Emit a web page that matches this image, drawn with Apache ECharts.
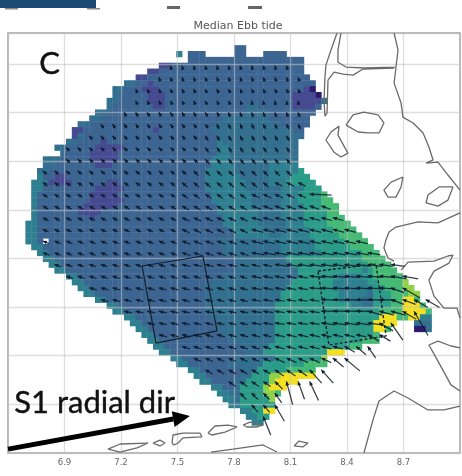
<!DOCTYPE html>
<html><head><meta charset="utf-8">
<style>html,body{margin:0;padding:0;background:#fff}#c{width:462px;height:476px;filter:blur(0.6px)}</style>
<script src="https://cdn.jsdelivr.net/npm/echarts@6/dist/echarts.min.js"></script>
</head><body><div id="c"></div>
<script>
const titleText='Median Ebb tide';
const panelLabel='C';
const radialLabel='S1 radial dir';
const xTickValues=[6.9,7.2,7.5,7.8,8.1,8.4,8.7];
const lonRange=[6.6,9.0], latRange=[53.4,55.127];
const cellLon0=6.6, cellLat0=55.077, cellDLon=0.0308, cellDLat=0.02405;
const arrowLon0=6.6, arrowLat0=54.945, arrowDLon=0.0616, arrowDLat=0.0481;
const palette=['#464a90','#3c6592','#33708f','#2e7f8f','#2a9c88','#45ba75','#8fd24a','#f5e020','#2b1a6e'];
// each row: start column, then (level, last column) pairs; null level = no data
const cellRows=[
[39,1,40],
[29,3,29,null,30,1,33,null,38,1,40,null,43,1,47],
[31,1,50],
[26,0,27,1,50],
[24,0,25,1,50],
[22,0,23,1,51],
[20,2,21,1,23,0,24,1,52],
[18,2,19,1,22,0,25,1,50,0,51,8,52],
[18,2,18,1,23,0,26,1,48,0,52,8,53],
[17,2,18,1,23,0,26,1,48,0,53,2,54],
[17,2,17,1,24,0,26,1,40,2,42,1,48,0,52,1,53],
[15,2,16,1,40,2,44,1,52],
[14,2,15,1,36,2,44,1,51],
[12,2,13,1,35,2,46,1,51],
[11,0,12,1,24,0,25,1,34,2,48,1,50],
[11,0,11,2,12,1,35,2,50],
[10,2,11,1,15,0,16,1,35,3,36,2,49],
[8,2,9,1,14,0,19,1,35,3,37,2,49],
[9,2,9,1,13,0,18,1,35,3,37,2,49],
[6,2,8,1,13,0,18,1,34,3,37,2,49],
[6,2,7,1,14,0,17,1,34,3,38,2,44,3,49],
[5,2,6,1,33,3,38,2,44,3,49,4,50],
[5,3,5,1,7,0,9,1,33,3,39,2,44,3,48,4,51],
[4,3,5,2,6,0,10,1,16,0,18,1,33,3,40,2,44,3,47,4,52],
[4,3,5,1,14,0,19,1,33,3,40,2,46,3,50,4,53],
[4,3,4,1,13,0,18,1,34,3,41,2,46,3,49,4,53,5,54],
[4,3,4,1,13,0,19,1,34,3,41,2,46,3,49,4,53,5,55],
[4,3,4,1,12,0,18,1,35,3,41,2,46,3,50,4,53,5,56],
[4,3,4,1,11,0,15,1,35,3,42,2,46,3,50,4,54,5,56],
[4,3,4,1,13,0,14,1,36,3,42,2,46,3,50,4,54,5,57],
[3,3,4,1,36,3,42,2,47,3,50,4,54,5,58],
[3,3,4,1,37,3,43,2,47,3,51,4,55,5,59],
[3,3,4,1,38,3,44,2,46,3,51,4,56,5,60],
[3,3,4,1,5,null,6,1,35,2,44,3,52,4,57,5,61],
[4,3,5,1,36,2,46,3,52,4,58,5,62],
[5,3,6,1,36,2,46,3,53,4,60,5,63],
[6,3,7,1,38,2,47,4,60,5,64],
[7,3,8,1,38,2,48,4,61,5,65],
[8,3,9,1,38,2,49,4,60,3,61,4,62,5,66],
[10,3,11,1,36,2,49,4,56,3,60,4,62,5,67],
[11,3,12,1,34,2,48,4,55,3,61,4,63,5,67,6,68],
[12,3,13,1,33,2,47,4,55,3,62,4,64,5,67,6,69],
[13,3,14,1,33,2,46,4,56,3,61,2,62,4,65,5,68,6,70],
[15,3,16,1,33,2,46,4,56,3,60,2,62,4,65,5,67,7,69,5,70],
[17,3,18,1,33,2,45,4,58,3,60,2,62,4,65,5,67,7,70,5,71],
[18,3,19,1,33,2,45,4,63,5,67,7,71,5,72],
[20,3,21,1,34,2,45,4,63,7,66,5,68,7,70,3,72],
[21,3,22,1,35,2,45,4,62,7,66,null,69,2,72],
[22,3,23,1,35,2,45,4,62,7,64,5,65,null,69,8,71,2,72],
[23,3,24,1,36,2,45,4,62,5,63],
[24,3,25,1,37,2,45,4,60,5,63],
[25,3,26,1,39,2,44,4,58,5,60],
[26,3,27,1,40,2,43,4,54,7,57],
[28,3,29,1,38,2,45,4,53,6,54],
[29,3,30,1,37,2,43,4,50,5,54],
[31,3,32,1,39,2,42,4,47,5,52],
[32,3,33,1,39,2,41,4,44,6,46,7,52],
[33,3,34,1,38,2,40,4,44,6,45,7,49],
[35,3,36,1,38,2,39,4,43,6,44,7,47],
[36,3,37,2,39,4,43,6,45,5,46],
[37,3,38,2,39,4,44,6,45],
[38,3,39,4,45],
[40,3,41,4,43,7,45],
[41,3,42,4,44],
[42,3,43]
];
// each row: arrow-row index, start column, then (direction deg, speed, last column) triples
const arrowRows=[
[-1,14,105,.2,24],
[0,13,110,.22,25],
[1,11,115,.22,25],
[2,11,115,.22,20,100,.22,25],
[3,10,120,.25,18,110,.25,25],
[4,8,125,.25,17,115,.28,25],
[5,7,130,.25,16,120,.3,24],
[6,5,135,.25,16,125,.3,24],
[7,5,140,.28,16,130,.32,24],
[8,3,140,.28,15,135,.35,24],
[9,3,145,.3,14,140,.36,22,155,.42,25],
[10,3,148,.3,14,145,.38,20,155,.45,25,178,1.1,26],
[11,3,150,.32,14,150,.4,20,160,.5,27],
[12,3,152,.32,14,155,.42,20,165,.55,28],
[13,3,155,.32,14,155,.42,20,165,.6,29],
[14,3,158,.34,14,160,.45,20,168,.6,30],
[15,3,160,.34,14,162,.45,20,170,.65,31],
[16,4,160,.35,14,165,.45,22,172,.7,33],
[17,5,162,.38,20,168,.5,25,175,.7,32,170,.8,34],
[18,7,165,.4,20,170,.5,25,176,.75,32,160,.7,33,150,1,34],
[19,8,165,.4,20,170,.5,26,178,.85,32,160,.7,34,150,.8,36],
[20,10,168,.4,20,172,.5,26,180,.85,30,165,.75,33,150,.8,34,120,1.4,35],
[21,12,168,.4,20,172,.5,26,172,.7,31,150,.8,32,125,1.05,33],
[22,13,165,.42,22,168,.52,30,150,.65,32],
[23,15,160,.42,22,165,.52,28,150,.6,29,140,.65,30,125,.7,31],
[24,16,155,.42,22,155,.55,27,140,.7,28,140,1,29],
[25,17,150,.42,22,145,.55,25,132,.9,27],
[26,19,145,.45,22,135,.55,23,105,1.2,24,110,.95,25,115,1.05,26],
[27,20,135,.45,22,125,.6,23],
[28,21,130,.5,22,120,.95,23],
[29,22,112,1,22]
];
const coastSylt1=[[8.347,55.127],[8.315,55.057],[8.288,54.995],[8.283,54.946],[8.278,54.851],[8.283,54.785],[8.294,54.798],[8.299,54.933],[8.331,54.966],[8.379,54.958],[8.432,54.954],[8.485,54.979],[8.650,54.983]];
const coastSylt2=[[8.368,55.127],[8.352,55.057],[8.352,55.007],[8.395,54.987],[8.490,54.983],[8.660,54.987],[8.671,55.057],[8.650,55.127]];
const coastMain1=[[8.660,54.983],[8.650,54.921],[8.687,54.839],[8.697,54.781],[8.751,54.757],[8.804,54.716],[8.835,54.658],[8.857,54.605],[8.820,54.592],[8.883,54.596],[8.936,54.543],[9.000,54.481]];
const coastMain2=[[9.000,54.387],[8.883,54.346],[8.777,54.350],[8.660,54.329],[8.623,54.309],[8.607,54.276],[8.596,54.243],[8.618,54.202],[8.650,54.189]];
const coastMain3=[[8.687,54.152],[8.724,54.185],[8.862,54.189],[8.936,54.210],[8.963,54.214],[8.942,54.181],[8.862,54.148],[8.835,54.111],[8.862,54.045],[8.915,53.996],[8.984,53.996],[9.000,53.955]];
const coastMain4=[[9.000,53.832],[8.952,53.840],[8.883,53.860],[8.835,53.844],[8.883,53.778],[8.952,53.680],[9.000,53.655]];
const coastMain5=[[8.490,53.400],[8.538,53.536],[8.570,53.614],[8.650,53.655],[8.724,53.626],[8.830,53.577],[8.915,53.577],[9.000,53.593]];
const coastSouth=[[7.678,53.404],[7.795,53.416],[7.954,53.433],[8.028,53.404]];
const island1=[[8.395,54.748],[8.432,54.790],[8.490,54.802],[8.565,54.790],[8.596,54.757],[8.570,54.716],[8.512,54.716],[8.459,54.720],[8.395,54.748]];
const island2=[[8.358,54.744],[8.315,54.720],[8.288,54.687],[8.331,54.637],[8.368,54.617],[8.405,54.633],[8.352,54.707],[8.358,54.744]];
const island3=[[8.697,54.535],[8.634,54.514],[8.596,54.481],[8.618,54.452],[8.660,54.452],[8.687,54.494],[8.697,54.535]];
const island4=[[8.963,54.494],[8.889,54.494],[8.830,54.461],[8.820,54.428],[8.883,54.415],[8.936,54.440],[8.963,54.494]];
const island5=[[7.131,53.416],[7.195,53.437],[7.343,53.441],[7.285,53.421],[7.195,53.404],[7.131,53.416]];
const island6=[[7.370,53.441],[7.407,53.453],[7.434,53.441],[7.407,53.429],[7.370,53.441]];
const island7=[[7.471,53.441],[7.476,53.474],[7.529,53.482],[7.619,53.482],[7.630,53.466],[7.529,53.462],[7.503,53.441],[7.481,53.433],[7.471,53.441]];
const island8=[[7.662,53.482],[7.699,53.511],[7.768,53.515],[7.816,53.507],[7.752,53.486],[7.683,53.474],[7.662,53.482]];
const island9=[[7.848,53.515],[7.885,53.527],[7.954,53.515],[7.922,53.507],[7.869,53.507],[7.848,53.515]];
const island10=[[8.119,53.429],[8.145,53.449],[8.193,53.441],[8.166,53.425],[8.119,53.429]];
const boxWest=[[7.312,54.169],[7.635,54.210],[7.710,53.902],[7.386,53.852],[7.312,54.169]];
const boxEast=[[8.246,54.148],[8.554,54.177],[8.607,53.881],[8.304,53.844],[8.246,54.148]];
const radialArrow=[[6.6,53.416],[7.566,53.552]];

const coasts=[coastSylt1,coastSylt2,coastMain1,coastMain2,coastMain3,coastMain4,coastMain5,coastSouth,island1,island2,island3,island4,island5,island6,island7,island8,island9,island10];
const cells=[];
cellRows.forEach((row,r)=>{
  let c=row[0];
  for(let i=1;i<row.length;i+=2){
    for(;c<=row[i+1];c++) if(row[i]!==null) cells.push([cellLon0+c*cellDLon,cellLat0-r*cellDLat,row[i]]);
  }
});
const arrows=[];
arrowRows.forEach(row=>{
  let a=row[1];
  for(let i=2;i<row.length;i+=3){
    for(;a<=row[i+2];a++) arrows.push([arrowLon0+a*arrowDLon,arrowLat0-row[0]*arrowDLat,row[i],row[i+1]]);
  }
});
const pxPerSpeed=20;
const lineSeries=(data,style)=>({type:'line',data,showSymbol:false,symbol:'none',silent:true,z:7,animation:false,lineStyle:style});

const chart=echarts.init(document.getElementById('c'),null,{renderer:'canvas'});
chart.setOption({
  animation:false,
  backgroundColor:'#fff',
  title:{text:titleText,left:233,top:16,textAlign:'center',textStyle:{fontFamily:'DejaVu Sans',fontSize:11,fontWeight:'normal',color:'#555'}},
  grid:{left:8,top:33,width:452,height:420,show:true,borderColor:'#a3a3a3',borderWidth:1.5,backgroundColor:'#fff'},
  xAxis:{type:'value',min:lonRange[0],max:lonRange[1],interval:0.3,z:5,
    axisLine:{show:false},axisTick:{show:false},
    axisLabel:{customValues:xTickValues,formatter:v=>v.toFixed(1),fontFamily:'DejaVu Sans',fontSize:8.5,color:'#666',margin:5},
    splitLine:{show:true,lineStyle:{color:'rgba(195,195,195,0.55)',width:1.3}}},
  yAxis:{type:'value',min:latRange[0],max:latRange[1],interval:0.2,z:5,
    axisLine:{show:false},axisTick:{show:false},axisLabel:{show:false},
    splitLine:{show:true,lineStyle:{color:'rgba(195,195,195,0.55)',width:1.3}}},
  graphic:[
    {type:'rect',left:0,top:0,shape:{width:96,height:8},style:{fill:'#1c4a75'},z:20},
    {type:'rect',left:87,top:8,shape:{width:13,height:1.5},style:{fill:'#888'},z:20},
    {type:'rect',left:5,top:8,shape:{width:13,height:1.5},style:{fill:'#888'},z:20},
    {type:'rect',left:167,top:6,shape:{width:13,height:3},style:{fill:'#666'},z:20},
    {type:'rect',left:248,top:6,shape:{width:14,height:3},style:{fill:'#666'},z:20},
    {type:'text',left:39,top:48,style:{text:panelLabel,font:'31px Lato',fill:'#111',stroke:'#111',lineWidth:0.4},z:20},
    {type:'text',left:14,top:387,style:{text:radialLabel,font:'31px Lato',fill:'#111',stroke:'#111',lineWidth:0.4},z:20}
  ],
  series:[
    {type:'custom',coordinateSystem:'cartesian2d',silent:true,z:2,animation:false,clip:true,data:cells,
      renderItem:(p,api)=>{
        const tl=api.coord([api.value(0),api.value(1)]);
        const s=api.size([cellDLon,cellDLat]);
        return {type:'rect',shape:{x:tl[0],y:tl[1],width:s[0]+0.4,height:s[1]+0.4},style:{fill:palette[api.value(2)]}};
      }},
    {type:'custom',coordinateSystem:'cartesian2d',silent:true,z:8,animation:false,clip:false,data:arrows,
      renderItem:(p,api)=>{
        const t=api.coord([api.value(0),api.value(1)]);
        const th=api.value(2)*Math.PI/180, len=api.value(3)*pxPerSpeed;
        const ux=Math.cos(th),uy=-Math.sin(th);
        const tail=[t[0]-ux*len,t[1]-uy*len];
        const hb=[t[0]-ux*4,t[1]-uy*4];
        return {type:'group',children:[
          {type:'line',shape:{x1:t[0],y1:t[1],x2:tail[0],y2:tail[1]},style:{stroke:'rgba(16,26,40,0.85)',lineWidth:1.25}},
          {type:'polygon',shape:{points:[t,[hb[0]-uy*1.9,hb[1]+ux*1.9],[hb[0]+uy*1.9,hb[1]-ux*1.9]]},style:{fill:'#0f1d30'}}
        ]};
      }},
    ...coasts.map(d=>lineSeries(d,{color:'#6a6a6a',width:1.3})),
    lineSeries(boxWest,{color:'#15202b',width:1.2}),
    lineSeries(boxEast,{color:'#15202b',width:1.4,type:[3,2]}),
    {type:'custom',coordinateSystem:'cartesian2d',silent:true,z:9,animation:false,clip:false,data:[[radialArrow[0][0],radialArrow[0][1],radialArrow[1][0],radialArrow[1][1]]],
      renderItem:(p,api)=>{
        const a=api.coord([api.value(0),api.value(1)]),b=api.coord([api.value(2),api.value(3)]);
        const d=Math.hypot(b[0]-a[0],b[1]-a[1]),ux=(b[0]-a[0])/d,uy=(b[1]-a[1])/d;
        const m=[b[0]-ux*17,b[1]-uy*17];
        return {type:'group',children:[
          {type:'line',shape:{x1:a[0],y1:a[1],x2:m[0],y2:m[1]},style:{stroke:'#000',lineWidth:5}},
          {type:'polygon',shape:{points:[b,[m[0]-uy*8,m[1]+ux*8],[m[0]+uy*8,m[1]-ux*8]]},style:{fill:'#000'}}
        ]};
      }}
  ]
});
</script></body></html>
